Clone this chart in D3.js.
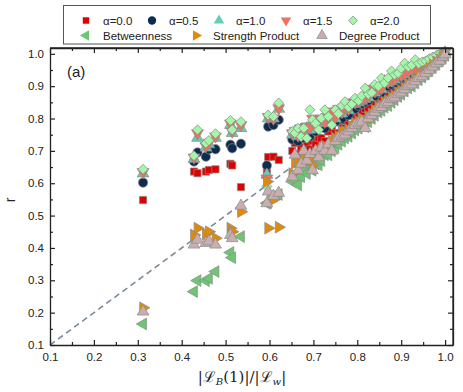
<!DOCTYPE html>
<html>
<head>
<meta charset="utf-8">
<script src="https://cdn.jsdelivr.net/npm/d3@7"></script>
<style>
  body { margin: 0; background: #fff; }
  text { font-family: "Liberation Sans", Arial, sans-serif; }
</style>
</head>
<body>
<div id="chart"></div>
<script>
// network ratios |L_B(1)|/|L_w| (shared x values)
var xVals = [0.312,
  0.428, 0.436, 0.455, 0.462, 0.477,
  0.511, 0.515, 0.535,
  0.594, 0.597, 0.609, 0.621,
  0.652, 0.658, 0.665, 0.672, 0.678, 0.685, 0.692, 0.698, 0.705, 0.712,
  0.718, 0.726, 0.734, 0.742, 0.750, 0.757, 0.765, 0.772, 0.780, 0.788,
  0.795, 0.803, 0.810, 0.818, 0.825, 0.833, 0.840, 0.848, 0.855, 0.862,
  0.870, 0.878, 0.885, 0.893, 0.900, 0.908, 0.916, 0.924, 0.932, 0.940,
  0.948, 0.956, 0.964, 0.972, 0.980, 0.988, 0.995, 1.000];

var alpha00 = [0.548,
  0.636, 0.631, 0.636, 0.641, 0.643,
  0.660, 0.655, 0.588,
  0.640, 0.681, 0.682, 0.672,
  0.700, 0.724, 0.690, 0.711, 0.700, 0.720, 0.705, 0.730, 0.720, 0.740,
  0.739, 0.730, 0.760, 0.770, 0.755, 0.790, 0.770, 0.793, 0.780, 0.811,
  0.800, 0.815, 0.820, 0.830, 0.832, 0.875, 0.850, 0.862, 0.860, 0.880,
  0.880, 0.890, 0.895, 0.905, 0.910, 0.915, 0.925, 0.930, 0.940, 0.945,
  0.952, 0.960, 0.968, 0.975, 0.982, 0.990, 0.996, 1.000];

var alpha05 = [0.602,
  0.667, 0.695, 0.682, 0.705, 0.705,
  0.719, 0.708, 0.722,
  0.655, 0.775, 0.780, 0.796,
  0.735, 0.745, 0.730, 0.750, 0.740, 0.755, 0.745, 0.770, 0.760, 0.775,
  0.786, 0.770, 0.790, 0.800, 0.790, 0.815, 0.800, 0.820, 0.810, 0.835,
  0.830, 0.840, 0.845, 0.850, 0.855, 0.885, 0.870, 0.880, 0.880, 0.913,
  0.900, 0.905, 0.910, 0.918, 0.922, 0.928, 0.935, 0.940, 0.948, 0.952,
  0.958, 0.965, 0.972, 0.978, 0.985, 0.991, 0.997, 1.002];

var alpha10 = [0.630,
  0.675, 0.740, 0.710, 0.720, 0.740,
  0.780, 0.755, 0.770,
  0.626, 0.800, 0.800, 0.830,
  0.750, 0.760, 0.745, 0.765, 0.755, 0.770, 0.765, 0.790, 0.775, 0.790,
  0.795, 0.785, 0.800, 0.815, 0.800, 0.825, 0.815, 0.830, 0.825, 0.845,
  0.845, 0.850, 0.855, 0.860, 0.865, 0.890, 0.880, 0.890, 0.890, 0.915,
  0.910, 0.915, 0.920, 0.930, 0.930, 0.936, 0.945, 0.948, 0.955, 0.960,
  0.965, 0.970, 0.976, 0.982, 0.988, 0.993, 0.998, 1.004];

var alpha15 = [0.635,
  0.680, 0.755, 0.715, 0.725, 0.745,
  0.785, 0.760, 0.780,
  0.615, 0.805, 0.800, 0.832,
  0.755, 0.762, 0.748, 0.770, 0.760, 0.776, 0.772, 0.800, 0.780, 0.795,
  0.800, 0.790, 0.806, 0.822, 0.805, 0.830, 0.820, 0.836, 0.830, 0.850,
  0.850, 0.855, 0.860, 0.864, 0.870, 0.892, 0.884, 0.894, 0.893, 0.917,
  0.913, 0.918, 0.923, 0.934, 0.933, 0.939, 0.948, 0.950, 0.957, 0.962,
  0.967, 0.972, 0.978, 0.984, 0.989, 0.994, 0.999, 1.005];

var alpha20 = [0.643,
  0.685, 0.765, 0.724, 0.732, 0.753,
  0.794, 0.765, 0.790,
  0.590, 0.811, 0.806, 0.848,
  0.760, 0.755, 0.770, 0.744, 0.770, 0.739, 0.827, 0.796, 0.785, 0.765,
  0.801, 0.827, 0.806, 0.780, 0.827, 0.815, 0.840, 0.852, 0.835, 0.845,
  0.863, 0.855, 0.870, 0.894, 0.875, 0.880, 0.905, 0.900, 0.925, 0.910,
  0.925, 0.947, 0.935, 0.940, 0.955, 0.971, 0.960, 0.965, 0.982, 0.970,
  0.975, 0.978, 0.985, 0.990, 0.995, 1.000, 1.003, 1.007];

var betweenness = [0.165,
  0.265, 0.299, 0.299, 0.306, 0.327,
  0.386, 0.370, 0.435,
  0.538, 0.540, 0.560, 0.565,
  0.605, 0.610, 0.595, 0.620, 0.640, 0.630, 0.650, 0.640, 0.660, 0.657,
  0.670, 0.688, 0.688, 0.700, 0.710, 0.720, 0.730, 0.740, 0.745, 0.755,
  0.765, 0.770, 0.780, 0.775, 0.790, 0.800, 0.810, 0.820, 0.825, 0.835,
  0.840, 0.850, 0.858, 0.868, 0.875, 0.885, 0.895, 0.900, 0.910, 0.920,
  0.928, 0.938, 0.948, 0.958, 0.968, 0.978, 0.988, 0.995];

var strengthProduct = [0.215,
  0.440, 0.461, 0.443, 0.450, 0.430,
  0.461, 0.450, 0.512,
  0.605, 0.461, 0.549, 0.464,
  0.630, 0.662, 0.667, 0.672, 0.680, 0.665, 0.672, 0.655, 0.690, 0.700,
  0.705, 0.715, 0.710, 0.730, 0.739, 0.745, 0.760, 0.760, 0.765, 0.775,
  0.785, 0.790, 0.800, 0.790, 0.805, 0.815, 0.825, 0.835, 0.840, 0.850,
  0.855, 0.865, 0.870, 0.880, 0.885, 0.895, 0.905, 0.910, 0.920, 0.930,
  0.935, 0.945, 0.955, 0.965, 0.975, 0.982, 0.992, 0.998];

var degreeProduct = [0.203,
  0.410, 0.425, 0.415, 0.420, 0.410,
  0.440, 0.430, 0.530,
  0.538, 0.574, 0.561, 0.570,
  0.620, 0.688, 0.640, 0.660, 0.700, 0.670, 0.690, 0.640, 0.700, 0.680,
  0.710, 0.700, 0.720, 0.700, 0.730, 0.740, 0.745, 0.750, 0.760, 0.770,
  0.780, 0.785, 0.790, 0.770, 0.800, 0.810, 0.820, 0.830, 0.835, 0.845,
  0.850, 0.860, 0.865, 0.875, 0.880, 0.890, 0.900, 0.905, 0.915, 0.925,
  0.930, 0.940, 0.950, 0.960, 0.970, 0.978, 0.990, 0.998];

var seriesNames = ["\u03b1=0.0", "\u03b1=0.5", "\u03b1=1.0", "\u03b1=1.5", "\u03b1=2.0",
  "Betweenness", "Strength Product", "Degree Product"];

var tickVals = [0.1, 0.2, 0.3, 0.4, 0.5, 0.6, 0.7, 0.8, 0.9, 1.0];
var minorVals = [0.15, 0.25, 0.35, 0.45, 0.55, 0.65, 0.75, 0.85, 0.95];

// chart size
var svgWidth = 463;
var svgHeight = 392;
var margin = { top: 48, right: 10, bottom: 47, left: 50 };
var width = svgWidth - margin.left - margin.right;
var height = svgHeight - margin.top - margin.bottom;

var svg = d3.select("#chart")
  .append("svg")
  .attr("width", svgWidth)
  .attr("height", svgHeight);

var chartGroup = svg.append("g")
  .attr("transform", `translate(${margin.left}, ${margin.top})`);

var xScale = d3.scaleLinear().domain([0.1, 1.018]).range([0, width]);
var yScale = d3.scaleLinear().domain([0.1, 1.018]).range([height, 0]);

// marker styles for each series
var styles = [
  { shape: d3.symbolSquare, size: 52, rot: 0, fill: "#e00000" },
  { shape: d3.symbolCircle, size: 68, rot: 0, fill: "#0f2b50" },
  { shape: d3.symbolTriangle, size: 60, rot: 0, fill: "#5fd1b8" },
  { shape: d3.symbolTriangle, size: 60, rot: 180, fill: "#f2705e" },
  { shape: d3.symbolSquare, size: 50, rot: 45, fill: "#a3f7a8" },
  { shape: d3.symbolTriangle, size: 60, rot: -90, fill: "#6cc673" },
  { shape: d3.symbolTriangle, size: 60, rot: 90, fill: "#e08a0c" },
  { shape: d3.symbolTriangle, size: 60, rot: 0, fill: "#c9aeb0" }
];
var allSeries = [alpha00, alpha05, alpha10, alpha15, alpha20,
  betweenness, strengthProduct, degreeProduct];

// y = x reference line
chartGroup.append("line")
  .attr("x1", xScale(0.1))
  .attr("y1", yScale(0.1))
  .attr("x2", xScale(1.0))
  .attr("y2", yScale(1.0))
  .attr("stroke", "#7a8b99")
  .attr("stroke-width", 1.6)
  .attr("stroke-dasharray", "6,4");

// points
allSeries.forEach(function(vals, i) {
  var st = styles[i];
  var sym = d3.symbol().type(st.shape).size(st.size);
  chartGroup.append("g")
    .selectAll("path")
    .data(xVals.map(function(xv, j) { return { x: xv, y: vals[j] }; }))
    .enter()
    .append("path")
    .attr("d", sym)
    .attr("transform", d => `translate(${xScale(d.x)},${yScale(d.y)}) rotate(${st.rot})`)
    .attr("fill", st.fill)
    .attr("stroke", "#8a8a8a")
    .attr("stroke-width", 0.7);
});

// axes with inward ticks on all four sides
function addAxis(axisFn, scale, transform, showLabels) {
  var major = chartGroup.append("g")
    .attr("transform", transform)
    .call(axisFn(scale).tickValues(tickVals).tickSizeInner(-5).tickSizeOuter(0)
      .tickPadding(6).tickFormat(showLabels ? d3.format(".1f") : ""));
  major.select(".domain").attr("stroke", "#222").attr("stroke-width", 1.3);
  major.selectAll(".tick line").attr("stroke", "#222").attr("stroke-width", 1.2);
  major.selectAll("text").attr("font-size", "11.5px").attr("fill", "#222")
    .style("font-family", "'Liberation Sans', Arial, sans-serif");
  var minor = chartGroup.append("g")
    .attr("transform", transform)
    .call(axisFn(scale).tickValues(minorVals).tickSizeInner(-3).tickSizeOuter(0).tickFormat(""));
  minor.select(".domain").remove();
  minor.selectAll(".tick line").attr("stroke", "#222").attr("stroke-width", 1.2);
  return major;
}
var xAxis = addAxis(d3.axisBottom, xScale, `translate(0, ${height})`, true);
xAxis.selectAll("text").attr("dy", "0.9em");
addAxis(d3.axisLeft, yScale, "translate(0, 0)", true);
addAxis(d3.axisTop, xScale, "translate(0, 0)", false);
addAxis(d3.axisRight, yScale, `translate(${width}, 0)`, false);
// right and top frame edges to close the box
chartGroup.append("line").attr("x1", 0).attr("x2", width).attr("y1", 0).attr("y2", 0)
  .attr("stroke", "#222").attr("stroke-width", 1.3);
chartGroup.append("line").attr("x1", width).attr("x2", width).attr("y1", 0).attr("y2", height)
  .attr("stroke", "#222").attr("stroke-width", 1.3);

// axis titles
svg.append("text")
  .attr("transform", "translate(15, 200) rotate(-90)")
  .attr("text-anchor", "middle")
  .attr("font-size", "14px")
  .attr("fill", "#222")
  .text("r");

var xTitle = svg.append("text")
  .attr("x", 242)
  .attr("y", 382)
  .attr("text-anchor", "middle")
  .attr("font-size", "15px")
  .attr("fill", "#222")
  .style("font-family", "'DejaVu Serif', serif");
xTitle.append("tspan").text("|\u2112");
xTitle.append("tspan").attr("font-size", "10px").attr("dy", 3).attr("font-style", "italic").text("B");
xTitle.append("tspan").attr("dy", -3).text("(1)|/|\u2112");
xTitle.append("tspan").attr("font-size", "10px").attr("dy", 3).attr("font-style", "italic").text("w");
xTitle.append("tspan").attr("dy", -3).text("|");

// panel label
svg.append("text")
  .attr("x", 67)
  .attr("y", 77)
  .attr("font-size", "15px")
  .attr("fill", "#222")
  .text("(a)");

// legend
var legend = svg.append("g");
legend.append("rect")
  .attr("x", 63.5).attr("y", 5.5)
  .attr("width", 367).attr("height", 38.5)
  .attr("fill", "#fff")
  .attr("stroke", "#555")
  .attr("stroke-width", 1);

var legendPos = [
  [86, 20.5], [152, 20.5], [219, 20.5], [286, 20.5], [353, 20.5],
  [86, 35.5], [196, 35.5], [322, 35.5]
];
styles.forEach(function(st, i) {
  var p = legendPos[i];
  legend.append("path")
    .attr("d", d3.symbol().type(st.shape).size(st.size * 0.8)())
    .attr("transform", `translate(${p[0]},${p[1]}) rotate(${st.rot})`)
    .attr("fill", st.fill)
    .attr("stroke", i === 4 || i === 7 ? "#8a8a8a" : "none")
    .attr("stroke-width", 0.7);
  legend.append("text")
    .attr("x", p[0] + 17)
    .attr("y", p[1] + 4)
    .attr("font-size", "11.5px")
    .attr("fill", "#222")
    .text(seriesNames[i]);
});
</script>
</body>
</html>
